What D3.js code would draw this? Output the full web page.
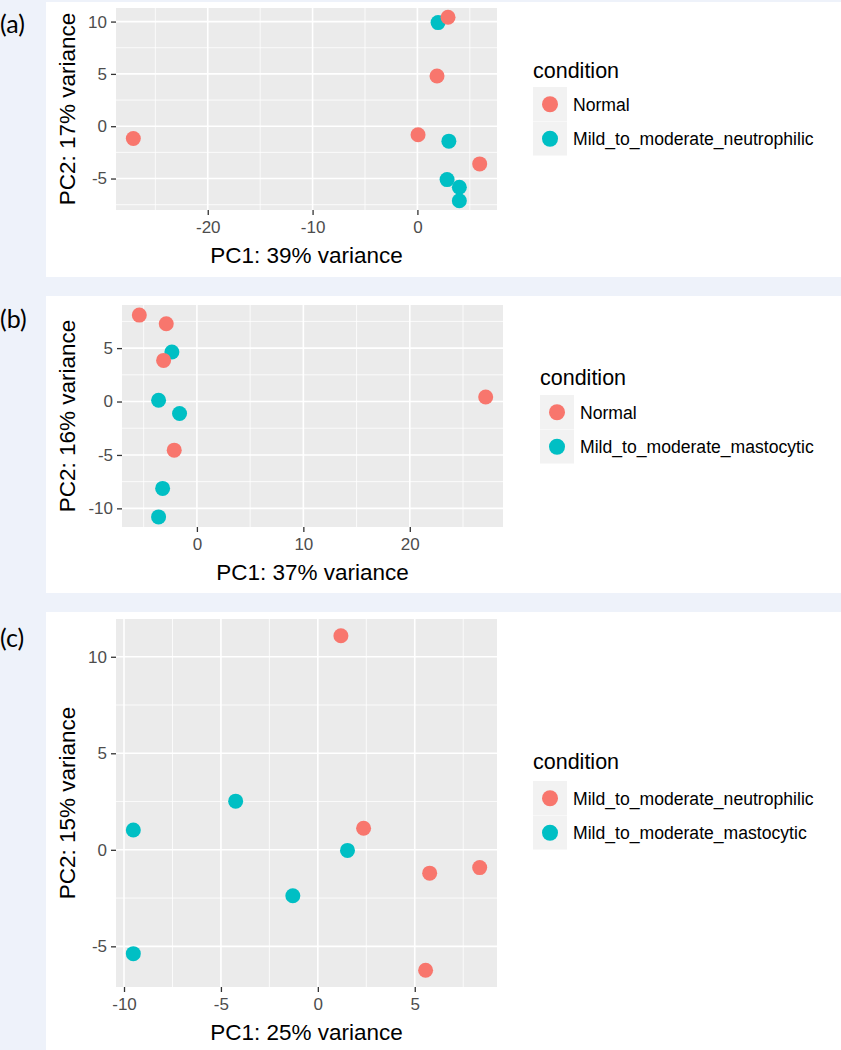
<!DOCTYPE html>
<html lang="en">
<head>
<meta charset="UTF-8">
<title>PCA plots</title>
<script src="https://d3js.org/d3.v7.min.js"></script>
<style>
  body { margin: 0; background: #eef2fa; }
  svg { display: block; }
  text { font-family: "Liberation Sans", Arial, sans-serif; }
</style>
</head>
<body>
<div id="chart"></div>
<script>
// ---- data ----
// panel (a): Normal vs Mild_to_moderate_neutrophilic
const groupsA = ["Normal", "Mild_to_moderate_neutrophilic"];
const pc1A = [1.97, 3.0, 2.83, 4.0, 4.0, 2.92, 1.87, -27.1, 0.06, 5.94];
const pc2A = [9.9, -1.43, -5.1, -5.83, -7.13, 10.42, 4.8, -1.17, -0.82, -3.6];
const condA = [1, 1, 1, 1, 1, 0, 0, 0, 0, 0];
const xTicksA = [-20, -10, 0];
const yTicksA = [-5, 0, 5, 10];

// panel (b): Normal vs Mild_to_moderate_mastocytic
const groupsB = ["Normal", "Mild_to_moderate_mastocytic"];
const pc1B = [-2.35, -3.6, -1.63, -3.22, -3.6, -5.41, -2.88, -3.13, -2.13, 27.13];
const pc2B = [4.63, 0.12, -1.12, -8.13, -10.8, 8.09, 7.28, 3.85, -4.55, 0.43];
const condB = [1, 1, 1, 1, 1, 0, 0, 0, 0, 0];
const xTicksB = [0, 10, 20];
const yTicksB = [-10, -5, 0, 5];

// panel (c): neutrophilic vs mastocytic
const groupsC = ["Mild_to_moderate_neutrophilic", "Mild_to_moderate_mastocytic"];
const pc1C = [-4.24, -9.52, 1.53, -1.29, -9.52, 1.19, 2.36, 5.77, 8.35, 5.56];
const pc2C = [2.52, 1.03, -0.03, -2.38, -5.38, 11.09, 1.12, -1.21, -0.92, -6.24];
const condC = [1, 1, 1, 1, 1, 0, 0, 0, 0, 0];
const xTicksC = [-10, -5, 0, 5];
const yTicksC = [-5, 0, 5, 10];

const palette = ["#F8766D", "#00BFC4"];

const svg = d3.select("#chart").append("svg")
    .attr("width", 841)
    .attr("height", 1050);

svg.append("rect").attr("width", 841).attr("height", 1050).attr("fill", "#eef2fa");

const panels = [
  {tag: "(a)", pc1: pc1A, pc2: pc2A, cond: condA, groups: groupsA, xTicks: xTicksA, yTicks: yTicksA,
   xTitle: "PC1: 39% variance", yTitle: "PC2: 17% variance",
   box: [2, 277], tagY: 33, plot: {l: 116, r: 497, t: 8, b: 210},
   legend: {x: 533, titleY: 78, keyTop: 87}},
  {tag: "(b)", pc1: pc1B, pc2: pc2B, cond: condB, groups: groupsB, xTicks: xTicksB, yTicks: yTicksB,
   xTitle: "PC1: 37% variance", yTitle: "PC2: 16% variance",
   box: [296, 593], tagY: 328, plot: {l: 122, r: 503, t: 305, b: 527},
   legend: {x: 540, titleY: 385, keyTop: 395}},
  {tag: "(c)", pc1: pc1C, pc2: pc2C, cond: condC, groups: groupsC, xTicks: xTicksC, yTicks: yTicksC,
   xTitle: "PC1: 25% variance", yTitle: "PC2: 15% variance",
   box: [612, 1050], tagY: 647, plot: {l: 116, r: 497, t: 619, b: 987},
   legend: {x: 533, titleY: 769, keyTop: 781}}
];

// ggplot-style 5% expansion of the data range
function expanded(vals) {
  const [lo, hi] = d3.extent(vals);
  const pad = (hi - lo) * 0.05;
  return [lo - pad, hi + pad];
}

panels.forEach(p => {
  const box = p.box;
  svg.append("rect")
      .attr("x", 46).attr("y", box[0])
      .attr("width", 841 - 46).attr("height", box[1] - box[0])
      .attr("fill", "#ffffff");

  svg.append("text")
      .attr("x", 0).attr("y", p.tagY)
      .style("font-family", "Lato, 'Open Sans', sans-serif")
      .style("font-size", "25px")
      .attr("fill", "#000")
      .text(p.tag);

  const x = d3.scaleLinear().domain(expanded(p.pc1)).range([p.plot.l, p.plot.r]);
  const y = d3.scaleLinear().domain(expanded(p.pc2)).range([p.plot.b, p.plot.t]);

  const g = svg.append("g");

  g.append("rect")
      .attr("x", p.plot.l).attr("y", p.plot.t)
      .attr("width", p.plot.r - p.plot.l).attr("height", p.plot.b - p.plot.t)
      .attr("fill", "#ebebeb");

  // minor grid: midpoints between major ticks (plus one step outside)
  const step = p.xTicks[1] - p.xTicks[0];
  const xMinor = d3.range(p.xTicks[0] - step * 3.5, p.xTicks[p.xTicks.length - 1] + step * 3, step)
      .filter(v => v > x.domain()[0] && v < x.domain()[1]);
  const ystep = p.yTicks[1] - p.yTicks[0];
  const yMinor = d3.range(p.yTicks[0] - ystep * 3.5, p.yTicks[p.yTicks.length - 1] + ystep * 3, ystep)
      .filter(v => v > y.domain()[0] && v < y.domain()[1]);

  g.selectAll(".xminor").data(xMinor).enter().append("line")
      .attr("x1", d => x(d)).attr("x2", d => x(d))
      .attr("y1", p.plot.t).attr("y2", p.plot.b)
      .attr("stroke", "#fff").attr("stroke-width", 0.8);
  g.selectAll(".yminor").data(yMinor).enter().append("line")
      .attr("y1", d => y(d)).attr("y2", d => y(d))
      .attr("x1", p.plot.l).attr("x2", p.plot.r)
      .attr("stroke", "#fff").attr("stroke-width", 0.8);
  g.selectAll(".xmajor").data(p.xTicks).enter().append("line")
      .attr("x1", d => x(d)).attr("x2", d => x(d))
      .attr("y1", p.plot.t).attr("y2", p.plot.b)
      .attr("stroke", "#fff").attr("stroke-width", 1.6);
  g.selectAll(".ymajor").data(p.yTicks).enter().append("line")
      .attr("y1", d => y(d)).attr("y2", d => y(d))
      .attr("x1", p.plot.l).attr("x2", p.plot.r)
      .attr("stroke", "#fff").attr("stroke-width", 1.6);

  // axes (plain hyphen for negatives, as in the figure)
  const fmt = d => String(d);
  const xAxis = g.append("g")
      .attr("transform", `translate(0,${p.plot.b})`)
      .call(d3.axisBottom(x).tickValues(p.xTicks).tickFormat(fmt).tickSize(5).tickPadding(6));
  const yAxis = g.append("g")
      .attr("transform", `translate(${p.plot.l},0)`)
      .call(d3.axisLeft(y).tickValues(p.yTicks).tickFormat(fmt).tickSize(5).tickPadding(4));
  [xAxis, yAxis].forEach(a => {
    a.select(".domain").remove();
    a.selectAll(".tick line").attr("stroke", "#333").attr("stroke-width", 1.3);
    a.selectAll(".tick text")
        .attr("fill", "#4d4d4d")
        .style("font-size", "17px")
        .style("font-family", "'Liberation Sans', Arial, sans-serif");
  });

  // axis titles
  svg.append("text")
      .attr("x", (p.plot.l + p.plot.r) / 2)
      .attr("y", p.plot.b + 53)
      .attr("text-anchor", "middle")
      .style("font-size", "22.5px")
      .attr("fill", "#000")
      .text(p.xTitle);
  svg.append("text")
      .attr("transform", `translate(75,${(p.plot.t + p.plot.b) / 2}) rotate(-90)`)
      .attr("text-anchor", "middle")
      .style("font-size", "22.5px")
      .attr("fill", "#000")
      .text(p.yTitle);

  // points
  const pts = p.pc1.map((v, i) => ({pc1: v, pc2: p.pc2[i], cond: p.cond[i]}));
  g.selectAll(".point").data(pts).enter().append("circle")
      .attr("cx", d => x(d.pc1))
      .attr("cy", d => y(d.pc2))
      .attr("r", 7.5)
      .attr("fill", d => palette[d.cond]);

  // legend
  const lg = svg.append("g").attr("transform", `translate(${p.legend.x},0)`);
  lg.append("text")
      .attr("x", 0).attr("y", p.legend.titleY)
      .style("font-size", "21.5px")
      .attr("fill", "#000")
      .text("condition");
  const keyH = 34.5;
  p.groups.forEach((name, i) => {
    const ky = p.legend.keyTop + i * keyH;
    lg.append("rect")
        .attr("x", 0).attr("y", ky)
        .attr("width", 34).attr("height", keyH - 0.5)
        .attr("fill", "#f2f2f2");
    lg.append("circle")
        .attr("cx", 17).attr("cy", ky + keyH / 2)
        .attr("r", 8)
        .attr("fill", palette[i]);
    lg.append("text")
        .attr("x", 40).attr("y", ky + keyH / 2)
        .attr("dy", "0.36em")
        .style("font-size", "17.6px")
        .attr("fill", "#000")
        .text(name);
  });
});
</script>
</body>
</html>
